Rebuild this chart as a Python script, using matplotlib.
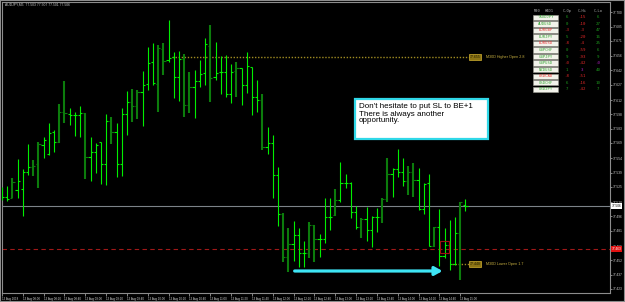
import matplotlib
matplotlib.use('Agg')
import matplotlib.pyplot as plt
from matplotlib.patches import Rectangle
import numpy as np

# ---------------- data ----------------
highs = [77.525, 77.526, 77.534, 77.553, 77.543, 77.568, 77.552, 77.570, 77.575, 77.589,
         77.582, 77.608, 77.631, 77.604, 77.600, 77.606, 77.599, 77.575, 77.569, 77.570,
         77.598, 77.595, 77.589, 77.604, 77.621, 77.623, 77.622, 77.641, 77.665, 77.669,
         77.667, 77.669, 77.692, 77.660, 77.661, 77.658, 77.640, 77.642, 77.652, 77.674,
         77.687, 77.670, 77.656, 77.657, 77.648, 77.650, 77.644, 77.660, 77.645, 77.632,
         77.618, 77.585, 77.577, 77.545, 77.499, 77.484, 77.491, 77.484, 77.471, 77.490,
         77.487, 77.478, 77.514, 77.514, 77.523, 77.550, 77.538, 77.530, 77.506, 77.494,
         77.505, 77.496, 77.504, 77.514, 77.554, 77.544, 77.563, 77.554, 77.546, 77.549,
         77.544, 77.529, 77.538, 77.485, 77.503, 77.484, 77.492, 77.495, 77.510, 77.513]
lows = [77.512, 77.511, 77.514, 77.514, 77.496, 77.537, 77.536, 77.524, 77.554, 77.557,
        77.560, 77.569, 77.589, 77.587, 77.576, 77.575, 77.533, 77.531, 77.539, 77.528,
        77.527, 77.568, 77.535, 77.536, 77.577, 77.590, 77.593, 77.586, 77.622, 77.627,
        77.600, 77.637, 77.650, 77.614, 77.611, 77.595, 77.599, 77.594, 77.625, 77.627,
        77.610, 77.632, 77.618, 77.615, 77.609, 77.615, 77.607, 77.619, 77.597, 77.600,
        77.562, 77.558, 77.514, 77.486, 77.450, 77.440, 77.451, 77.445, 77.445, 77.454,
        77.450, 77.455, 77.469, 77.482, 77.496, 77.510, 77.524, 77.494, 77.483, 77.474,
        77.471, 77.465, 77.480, 77.489, 77.510, 77.515, 77.535, 77.526, 77.517, 77.515,
        77.502, 77.498, 77.466, 77.465, 77.446, 77.454, 77.442, 77.447, 77.432, 77.501]
opens = [77.514, 77.515, 77.514, 77.522, 77.523, 77.540, 77.545, 77.548, 77.567, 77.558,
         77.580, 77.570, 77.600, 77.598, 77.597, 77.597, 77.599, 77.555, 77.560, 77.570,
         77.548, 77.591, 77.580, 77.548, 77.598, 77.610, 77.606, 77.620, 77.628, 77.650,
         77.628, 77.663, 77.652, 77.655, 77.635, 77.653, 77.607, 77.625, 77.631, 77.639,
         77.666, 77.635, 77.640, 77.640, 77.618, 77.641, 77.644, 77.627, 77.645, 77.615,
         77.612, 77.565, 77.569, 77.537, 77.498, 77.455, 77.468, 77.477, 77.459, 77.459,
         77.487, 77.473, 77.473, 77.495, 77.497, 77.512, 77.529, 77.529, 77.500, 77.485,
         77.493, 77.482, 77.495, 77.495, 77.513, 77.538, 77.543, 77.540, 77.531, 77.540,
         77.532, 77.503, 77.529, 77.466, 77.485, 77.456, 77.467, 77.448, 77.479, 77.507]
closes = [77.515, 77.513, 77.530, 77.531, 77.540, 77.545, 77.546, 77.568, 77.572, 77.579,
          77.570, 77.600, 77.599, 77.597, 77.597, 77.599, 77.555, 77.560, 77.567, 77.548,
          77.591, 77.580, 77.548, 77.598, 77.610, 77.606, 77.620, 77.627, 77.649, 77.629,
          77.664, 77.651, 77.654, 77.635, 77.653, 77.607, 77.625, 77.631, 77.638, 77.668,
          77.634, 77.639, 77.640, 77.618, 77.640, 77.644, 77.627, 77.646, 77.615, 77.612,
          77.565, 77.569, 77.537, 77.498, 77.455, 77.468, 77.477, 77.459, 77.459, 77.487,
          77.473, 77.473, 77.495, 77.495, 77.512, 77.529, 77.529, 77.500, 77.485, 77.493,
          77.482, 77.495, 77.495, 77.513, 77.538, 77.543, 77.540, 77.531, 77.540, 77.532,
          77.503, 77.528, 77.466, 77.485, 77.456, 77.467, 77.448, 77.479, 77.510, 77.506]
dark_bars = [2, 6, 7, 11, 12, 16, 21, 25, 26, 30, 31, 35, 36, 40, 45, 50, 54, 55, 59, 60,
             64, 69, 73, 74, 78, 79, 83, 88]

price_ticks = [77.700, 77.685, 77.671, 77.656, 77.642, 77.627, 77.612, 77.598, 77.583,
               77.569, 77.554, 77.539, 77.525, 77.510, 77.496, 77.481, 77.466, 77.452,
               77.437, 77.423]
time_labels = ["13 Aug 2018", "13 Aug 08:00", "13 Aug 08:20", "13 Aug 08:40", "13 Aug 09:00",
               "13 Aug 09:20", "13 Aug 09:40", "13 Aug 10:00", "13 Aug 10:20", "13 Aug 10:40",
               "13 Aug 11:00", "13 Aug 11:20", "13 Aug 11:40", "13 Aug 12:00", "13 Aug 12:20",
               "13 Aug 12:40", "13 Aug 13:00", "13 Aug 13:20", "13 Aug 13:40", "13 Aug 14:00",
               "13 Aug 14:20", "13 Aug 14:40", "13 Aug 15:00"]
time_label_every = 4

bid_price = 77.506
red_level = 77.463
higher_open = 77.655
higher_open_from = 32.6
lower_open = 77.448
lower_open_from = 86.4
arrow_price = 77.441
arrow_from_bar = 56.2
arrow_to_bar = 84.6
marker_bar = 85
marker_lo, marker_hi = 77.459, 77.471

title_text = "AUDJPY,M5  77.503 77.507 77.501 77.506"
note_text = "Don't hesitate to put SL to BE+1\nThere is always another\nopportunity."

tbl_header = ["M30", "H4D1", "C-Op", "C-Hi", "C-Lo"]
symbols = ["*AUDJPY", "AUDUSD", "EURGBP", "EURJPY", "EURUSD", "GBPCHF",
           "GBPJPY", "GBPUSD", "NZDUSD", "USDCAD", "USDCHF", "USDJPY"]
symbol_up = [True, True, False, True, False, True, True, True, True, False, True, True]
c_op = ["6", "0", "-3", "5", "-8", "0", "9", "-0", "1", "-8", "6", "7"]
c_hi = ["-15", "-10", "-3", "-20", "-4", "-59", "-93", "-42", "3", "-51", "-16", "-42"]
c_lo = ["6", "27", "47", "16", "25", "6", "9", "-0", "40", "", "10", "7"]
purple_cells = [("hi", 8), ("lo", 7)]

# ---------------- layout ----------------
W, H = 625, 302
BAR0_PX, BAR_STEP = 1.7, 5.21
fig = plt.figure(figsize=(W / 100, H / 100), dpi=100, facecolor='black')

def fx(px):
    return px / W

def fy(py):
    return 1 - py / H

AX_L, AX_R, AX_T, AX_B = 2, 610, 2, 293
ax = fig.add_axes([fx(AX_L), fy(AX_B), fx(AX_R) - fx(AX_L), fy(AX_T) - fy(AX_B)])
ax.set_facecolor('black')
ax.set_xlim((AX_L - BAR0_PX) / BAR_STEP, (AX_R - BAR0_PX) / BAR_STEP)
ax.set_ylim(77.419, 77.710)

n = len(highs)
xs = np.arange(n)
LIGHT, DARK = '#00ee00', '#0c7c0c'
cols = [DARK if i in dark_bars else LIGHT for i in range(n)]
lws = [1.5 if i in dark_bars else 0.8 for i in range(n)]

# reference lines
ax.axhline(bid_price, color='#7c8288', lw=0.8, zorder=1)
ax.axhline(red_level, color='#a01818', lw=0.8, ls=(0, (4, 3)), zorder=1)
ax.hlines(higher_open, higher_open_from, n - 0.4, color='#a08c22', lw=1.0, ls=(0, (1, 1.2)), zorder=1)
ax.hlines(lower_open, lower_open_from, n - 0.4, color='#a08c22', lw=1.0, ls=(0, (1, 1.2)), zorder=1)

ax.vlines(xs, lows, highs, colors=cols, linewidths=lws, zorder=3)
ax.hlines(opens, xs - 0.42, xs, colors=cols, linewidths=0.8, zorder=3)
ax.hlines(closes, xs, xs + 0.42, colors=cols, linewidths=0.8, zorder=3)

ax.add_patch(Rectangle((marker_bar - 0.8, marker_lo), 1.6, marker_hi - marker_lo,
                       facecolor='none', edgecolor='#a01010', lw=0.8, zorder=4))

ax.annotate('', xy=(arrow_to_bar, arrow_price), xytext=(arrow_from_bar, arrow_price),
            arrowprops=dict(arrowstyle='-|>,head_length=0.45,head_width=0.25',
                            color='#3ee4f4', lw=2.3, shrinkA=0, shrinkB=0), zorder=5)

# axes styling
for s in ax.spines.values():
    s.set_color('#8c8c8c')
    s.set_linewidth(0.8)
ax.yaxis.tick_right()
ax.set_yticks(price_ticks)
ax.set_yticklabels([f"{p:.3f}" for p in price_ticks], family='Liberation Sans')
ax.tick_params(axis='y', colors='#9a9a9a', labelcolor='#d0d0d0', labelsize=2.3, length=1.5, width=0.6, pad=0.8)
ax.set_xticks(xs[::time_label_every][:len(time_labels)])
ax.set_xticklabels(time_labels, family='Liberation Sans')
ax.tick_params(axis='x', colors='#9a9a9a', labelcolor='#d0d0d0', labelsize=2.1, length=2, width=0.6, pad=0.8)
for lab in ax.get_xticklabels():
    lab.set_horizontalalignment('left')

# price-axis boxes
fig.text(fx(611.5), fy(206), f"{bid_price:.3f}", fontsize=2.3, family='Liberation Sans', color='black',
         va='center', ha='left', bbox=dict(facecolor='white', edgecolor='none', pad=0.6))
fig.text(fx(611.5), fy(249), f"{red_level:.3f}", fontsize=2.3, family='Liberation Sans', color='white',
         va='center', ha='left', bbox=dict(facecolor='#e01010', edgecolor='none', pad=0.6))

# open-line labels
for price, label, ypx in [(higher_open, "M30D Higher Open 2.8", 57), (lower_open, "M30D Lower Open 1.7", 264)]:
    fig.text(fx(469.5), fy(ypx), f"{price:.3f}", fontsize=2.5, family='Liberation Sans', color='#1e1a00',
             va='center', ha='left', bbox=dict(facecolor='#8c7414', edgecolor='#d0b030', pad=0.5, lw=0.5))
    fig.text(fx(486), fy(ypx), label, fontsize=2.7, family='Liberation Sans', color='#c8b040',
             va='center', ha='left')

# title
fig.text(fx(5), fy(4.5), title_text, fontsize=2.4, family='Liberation Sans', color='#c8c8c8',
         va='center', ha='left')

# note box
fig.add_artist(Rectangle((fx(355), fy(139)), fx(488) - fx(355), fy(99) - fy(139),
                         transform=fig.transFigure, facecolor='white', edgecolor='#30d8e8', lw=1.6, zorder=6))
fig.text(fx(359), fy(103.5), note_text, fontsize=5.8, family='Liberation Sans', color='black',
         va='top', ha='left', linespacing=1.0, zorder=7)

# table
hdr_x = [537, 549, 567, 582, 598]
for hx, htxt in zip(hdr_x, tbl_header):
    fig.text(fx(hx), fy(11), htxt, fontsize=2.7, family='DejaVu Sans Mono', color='#a8a8a8',
             va='center', ha='center', zorder=7)
GREEN, RED, PURPLE = '#1e9a1e', '#e02828', '#b020c0'
for r, sym in enumerate(symbols):
    yc = 17.3 + 6.55 * r
    fig.add_artist(Rectangle((fx(532.7), fy(yc + 2.7)), fx(25.6), 5.4 / H, transform=fig.transFigure,
                             facecolor='#f2f2ea', edgecolor='#9a9a90', lw=0.4, zorder=6))
    fig.text(fx(545.5), fy(yc), sym, fontsize=2.8, family='DejaVu Sans Mono',
             color=('#3aa83a' if symbol_up[r] else '#e83a3a'), va='center', ha='center', zorder=7)
    for key, col_vals, cx in [("op", c_op, 567), ("hi", c_hi, 582), ("lo", c_lo, 598)]:
        v = col_vals[r]
        if not v:
            continue
        if (key, r) in purple_cells:
            c = PURPLE
        elif v.startswith('-'):
            c = RED
        else:
            c = GREEN
        fig.text(fx(cx), fy(yc), v, fontsize=3.0, family='DejaVu Sans Mono', color=c,
                 va='center', ha='center', zorder=7)

# window border
fig.add_artist(Rectangle((0, 0), 1, 1, transform=fig.transFigure, facecolor='none',
                         edgecolor='#8c8c8c', lw=1.5, zorder=10))

fig.savefig('out.png', dpi=100, facecolor='black')
